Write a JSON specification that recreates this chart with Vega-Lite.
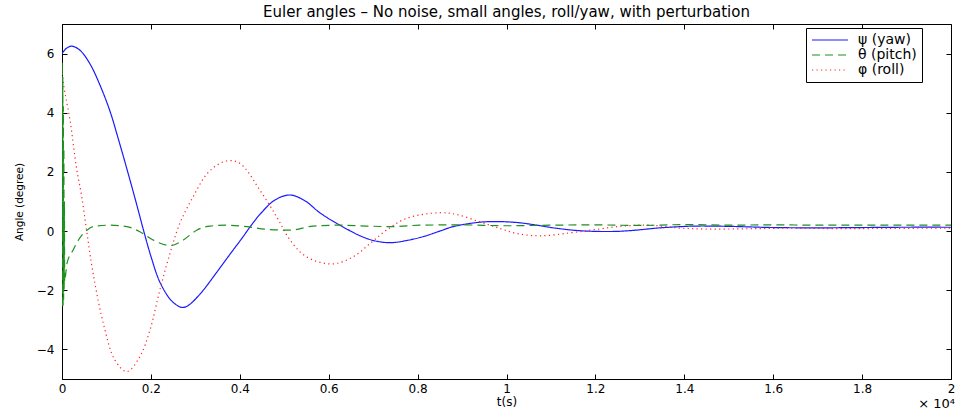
{
  "$schema": "https://vega.github.io/schema/vega-lite/v6.json",
  "autosize": "none",
  "width": 889,
  "height": 355,
  "padding": {"left": 62, "top": 24, "right": 11, "bottom": 34},
  "background": "white",
  "title": {"text": "Euler angles – No noise, small angles, roll/yaw, with perturbation", "font": "DejaVu Sans", "fontSize": 15, "fontWeight": "normal", "color": "black", "offset": 4, "anchor": "middle"},
  "config": {
    "view": {"stroke": "black", "strokeWidth": 1},
    "axis": {"grid": false, "domainColor": "black", "tickColor": "black", "labelColor": "black", "titleColor": "black", "labelFont": "DejaVu Sans", "titleFont": "DejaVu Sans", "labelFontSize": 12, "titleFontSize": 11, "titleFontWeight": "normal", "tickSize": -5}
  },
  "datasets": {
    "angles": [
      {"t": 0, "v": 6.0, "s": "ψ (yaw)"},
      {"t": 0.01, "v": 6.18, "s": "ψ (yaw)"},
      {"t": 0.022, "v": 6.25, "s": "ψ (yaw)"},
      {"t": 0.04, "v": 6.12, "s": "ψ (yaw)"},
      {"t": 0.063, "v": 5.65, "s": "ψ (yaw)"},
      {"t": 0.085, "v": 4.95, "s": "ψ (yaw)"},
      {"t": 0.108, "v": 4.05, "s": "ψ (yaw)"},
      {"t": 0.127, "v": 3.1, "s": "ψ (yaw)"},
      {"t": 0.146, "v": 2.1, "s": "ψ (yaw)"},
      {"t": 0.168, "v": 0.9, "s": "ψ (yaw)"},
      {"t": 0.183, "v": 0.05, "s": "ψ (yaw)"},
      {"t": 0.2, "v": -0.85, "s": "ψ (yaw)"},
      {"t": 0.22, "v": -1.72, "s": "ψ (yaw)"},
      {"t": 0.243, "v": -2.3, "s": "ψ (yaw)"},
      {"t": 0.256, "v": -2.48, "s": "ψ (yaw)"},
      {"t": 0.269, "v": -2.58, "s": "ψ (yaw)"},
      {"t": 0.28, "v": -2.55, "s": "ψ (yaw)"},
      {"t": 0.292, "v": -2.42, "s": "ψ (yaw)"},
      {"t": 0.305, "v": -2.22, "s": "ψ (yaw)"},
      {"t": 0.32, "v": -1.96, "s": "ψ (yaw)"},
      {"t": 0.333, "v": -1.7, "s": "ψ (yaw)"},
      {"t": 0.36, "v": -1.15, "s": "ψ (yaw)"},
      {"t": 0.385, "v": -0.64, "s": "ψ (yaw)"},
      {"t": 0.405, "v": -0.24, "s": "ψ (yaw)"},
      {"t": 0.423, "v": 0.14, "s": "ψ (yaw)"},
      {"t": 0.445, "v": 0.56, "s": "ψ (yaw)"},
      {"t": 0.479, "v": 1.05, "s": "ψ (yaw)"},
      {"t": 0.513, "v": 1.22, "s": "ψ (yaw)"},
      {"t": 0.547, "v": 1.02, "s": "ψ (yaw)"},
      {"t": 0.58, "v": 0.62, "s": "ψ (yaw)"},
      {"t": 0.625, "v": 0.2, "s": "ψ (yaw)"},
      {"t": 0.677, "v": -0.2, "s": "ψ (yaw)"},
      {"t": 0.71, "v": -0.35, "s": "ψ (yaw)"},
      {"t": 0.742, "v": -0.39, "s": "ψ (yaw)"},
      {"t": 0.775, "v": -0.32, "s": "ψ (yaw)"},
      {"t": 0.812, "v": -0.19, "s": "ψ (yaw)"},
      {"t": 0.85, "v": 0.0, "s": "ψ (yaw)"},
      {"t": 0.88, "v": 0.15, "s": "ψ (yaw)"},
      {"t": 0.94, "v": 0.3, "s": "ψ (yaw)"},
      {"t": 0.985, "v": 0.32, "s": "ψ (yaw)"},
      {"t": 1.03, "v": 0.28, "s": "ψ (yaw)"},
      {"t": 1.068, "v": 0.2, "s": "ψ (yaw)"},
      {"t": 1.11, "v": 0.1, "s": "ψ (yaw)"},
      {"t": 1.158, "v": 0.02, "s": "ψ (yaw)"},
      {"t": 1.2, "v": -0.01, "s": "ψ (yaw)"},
      {"t": 1.248, "v": -0.01, "s": "ψ (yaw)"},
      {"t": 1.29, "v": 0.03, "s": "ψ (yaw)"},
      {"t": 1.338, "v": 0.1, "s": "ψ (yaw)"},
      {"t": 1.39, "v": 0.15, "s": "ψ (yaw)"},
      {"t": 1.428, "v": 0.17, "s": "ψ (yaw)"},
      {"t": 1.5, "v": 0.16, "s": "ψ (yaw)"},
      {"t": 1.6, "v": 0.12, "s": "ψ (yaw)"},
      {"t": 1.7, "v": 0.11, "s": "ψ (yaw)"},
      {"t": 1.8, "v": 0.12, "s": "ψ (yaw)"},
      {"t": 1.9, "v": 0.13, "s": "ψ (yaw)"},
      {"t": 2.0, "v": 0.13, "s": "ψ (yaw)"},

      {"t": 0, "v": 0, "s": "θ (pitch)"},
      {"t": 0.0006, "v": 5.7, "s": "θ (pitch)"},
      {"t": 0.0012, "v": -2.6, "s": "θ (pitch)"},
      {"t": 0.0018, "v": 5.2, "s": "θ (pitch)"},
      {"t": 0.0024, "v": -2.5, "s": "θ (pitch)"},
      {"t": 0.003, "v": 4.2, "s": "θ (pitch)"},
      {"t": 0.0036, "v": -2.3, "s": "θ (pitch)"},
      {"t": 0.0042, "v": 2.8, "s": "θ (pitch)"},
      {"t": 0.0048, "v": -2.0, "s": "θ (pitch)"},
      {"t": 0.0054, "v": 1.0, "s": "θ (pitch)"},
      {"t": 0.006, "v": -1.7, "s": "θ (pitch)"},
      {"t": 0.008, "v": -1.5, "s": "θ (pitch)"},
      {"t": 0.011, "v": -1.1, "s": "θ (pitch)"},
      {"t": 0.025, "v": -0.64, "s": "θ (pitch)"},
      {"t": 0.037, "v": -0.3, "s": "θ (pitch)"},
      {"t": 0.056, "v": 0.03, "s": "θ (pitch)"},
      {"t": 0.07, "v": 0.15, "s": "θ (pitch)"},
      {"t": 0.108, "v": 0.2, "s": "θ (pitch)"},
      {"t": 0.146, "v": 0.15, "s": "θ (pitch)"},
      {"t": 0.175, "v": -0.02, "s": "θ (pitch)"},
      {"t": 0.205, "v": -0.3, "s": "θ (pitch)"},
      {"t": 0.243, "v": -0.49, "s": "θ (pitch)"},
      {"t": 0.273, "v": -0.3, "s": "θ (pitch)"},
      {"t": 0.303, "v": 0.03, "s": "θ (pitch)"},
      {"t": 0.333, "v": 0.17, "s": "θ (pitch)"},
      {"t": 0.37, "v": 0.2, "s": "θ (pitch)"},
      {"t": 0.415, "v": 0.15, "s": "θ (pitch)"},
      {"t": 0.46, "v": 0.06, "s": "θ (pitch)"},
      {"t": 0.513, "v": 0.03, "s": "θ (pitch)"},
      {"t": 0.565, "v": 0.17, "s": "θ (pitch)"},
      {"t": 0.625, "v": 0.2, "s": "θ (pitch)"},
      {"t": 0.685, "v": 0.17, "s": "θ (pitch)"},
      {"t": 0.745, "v": 0.15, "s": "θ (pitch)"},
      {"t": 0.805, "v": 0.2, "s": "θ (pitch)"},
      {"t": 0.9, "v": 0.21, "s": "θ (pitch)"},
      {"t": 1.0, "v": 0.18, "s": "θ (pitch)"},
      {"t": 1.1, "v": 0.2, "s": "θ (pitch)"},
      {"t": 1.2, "v": 0.21, "s": "θ (pitch)"},
      {"t": 1.3, "v": 0.19, "s": "θ (pitch)"},
      {"t": 1.4, "v": 0.22, "s": "θ (pitch)"},
      {"t": 1.5, "v": 0.2, "s": "θ (pitch)"},
      {"t": 1.6, "v": 0.21, "s": "θ (pitch)"},
      {"t": 1.7, "v": 0.2, "s": "θ (pitch)"},
      {"t": 1.8, "v": 0.2, "s": "θ (pitch)"},
      {"t": 1.9, "v": 0.2, "s": "θ (pitch)"},
      {"t": 2.0, "v": 0.2, "s": "θ (pitch)"},

      {"t": 0, "v": 5.5, "s": "φ (roll)"},
      {"t": 0.003, "v": 5.0, "s": "φ (roll)"},
      {"t": 0.018, "v": 3.75, "s": "φ (roll)"},
      {"t": 0.033, "v": 2.1, "s": "φ (roll)"},
      {"t": 0.044, "v": 1.2, "s": "φ (roll)"},
      {"t": 0.056, "v": -0.05, "s": "φ (roll)"},
      {"t": 0.07, "v": -1.43, "s": "φ (roll)"},
      {"t": 0.093, "v": -3.12, "s": "φ (roll)"},
      {"t": 0.119, "v": -4.36, "s": "φ (roll)"},
      {"t": 0.146, "v": -4.75, "s": "φ (roll)"},
      {"t": 0.175, "v": -4.25, "s": "φ (roll)"},
      {"t": 0.198, "v": -3.34, "s": "φ (roll)"},
      {"t": 0.22, "v": -2.0, "s": "φ (roll)"},
      {"t": 0.243, "v": -0.75, "s": "φ (roll)"},
      {"t": 0.265, "v": 0.26, "s": "φ (roll)"},
      {"t": 0.295, "v": 1.16, "s": "φ (roll)"},
      {"t": 0.33, "v": 2.0, "s": "φ (roll)"},
      {"t": 0.37, "v": 2.37, "s": "φ (roll)"},
      {"t": 0.4, "v": 2.29, "s": "φ (roll)"},
      {"t": 0.445, "v": 1.39, "s": "φ (roll)"},
      {"t": 0.483, "v": 0.48, "s": "φ (roll)"},
      {"t": 0.513, "v": -0.3, "s": "φ (roll)"},
      {"t": 0.55, "v": -0.87, "s": "φ (roll)"},
      {"t": 0.607, "v": -1.11, "s": "φ (roll)"},
      {"t": 0.655, "v": -0.87, "s": "φ (roll)"},
      {"t": 0.693, "v": -0.42, "s": "φ (roll)"},
      {"t": 0.73, "v": 0.03, "s": "φ (roll)"},
      {"t": 0.775, "v": 0.43, "s": "φ (roll)"},
      {"t": 0.85, "v": 0.62, "s": "φ (roll)"},
      {"t": 0.888, "v": 0.56, "s": "φ (roll)"},
      {"t": 0.94, "v": 0.31, "s": "φ (roll)"},
      {"t": 0.985, "v": 0.09, "s": "φ (roll)"},
      {"t": 1.023, "v": -0.08, "s": "φ (roll)"},
      {"t": 1.075, "v": -0.16, "s": "φ (roll)"},
      {"t": 1.143, "v": -0.06, "s": "φ (roll)"},
      {"t": 1.203, "v": 0.06, "s": "φ (roll)"},
      {"t": 1.263, "v": 0.17, "s": "φ (roll)"},
      {"t": 1.323, "v": 0.2, "s": "φ (roll)"},
      {"t": 1.383, "v": 0.11, "s": "φ (roll)"},
      {"t": 1.45, "v": 0.07, "s": "φ (roll)"},
      {"t": 1.55, "v": 0.08, "s": "φ (roll)"},
      {"t": 1.65, "v": 0.1, "s": "φ (roll)"},
      {"t": 1.75, "v": 0.08, "s": "φ (roll)"},
      {"t": 1.85, "v": 0.09, "s": "φ (roll)"},
      {"t": 2.0, "v": 0.1, "s": "φ (roll)"}
    ],
    "note": [{"label": "× 10⁴"}]
  },
  "layer": [
    {
      "data": {"name": "angles"},
      "encoding": {
        "x": {"field": "t", "type": "quantitative", "scale": {"domain": [0, 2], "nice": false, "zero": false},
              "axis": {"values": [0, 0.2, 0.4, 0.6, 0.8, 1, 1.2, 1.4, 1.6, 1.8, 2], "format": "~g", "title": "t(s)", "labelFontSize": 12, "titleFontSize": 12, "labelPadding": 9, "titlePadding": 2, "labelFlush": false}},
        "y": {"field": "v", "type": "quantitative", "scale": {"domain": [-5, 7], "nice": false, "zero": false},
              "axis": {"values": [-4, -2, 0, 2, 4, 6], "title": "Angle (degree)", "titleFontSize": 10.5, "labelPadding": 13, "titlePadding": 12}},
        "color": {"field": "s", "type": "nominal", "sort": null,
                  "scale": {"domain": ["ψ (yaw)", "θ (pitch)", "φ (roll)"], "range": ["#1a1aff", "#1f8f1f", "#ff2020"]},
                  "legend": {"title": null, "orient": "none", "legendX": 744, "legendY": 4, "strokeColor": "black", "fillColor": "white", "padding": 5, "symbolType": "stroke", "symbolSize": 1296, "symbolStrokeWidth": 1.2, "labelFont": "DejaVu Sans", "labelFontSize": 14, "labelColor": "black", "labelOffset": 9, "clipHeight": 14, "rowPadding": 1, "cornerRadius": 0}},
        "strokeDash": {"field": "s", "type": "nominal", "sort": null,
                       "scale": {"domain": ["ψ (yaw)", "θ (pitch)", "φ (roll)"], "range": [[1, 0], [8, 5], [1.2, 3.3]]}},
        "detail": {"field": "s"}
      },
      "layer": [
        {
          "transform": [{"filter": "datum.s !== 'θ (pitch)'"}],
          "mark": {"type": "line", "interpolate": "catmull-rom", "strokeWidth": 1.2, "clip": true}
        },
        {
          "transform": [{"filter": "datum.s === 'θ (pitch)'"}],
          "mark": {"type": "line", "interpolate": "monotone", "strokeWidth": 1.2, "clip": true}
        }
      ]
    },
    {
      "data": {"name": "note"},
      "mark": {"type": "text", "align": "right", "baseline": "top", "dy": 19, "dx": 4, "font": "DejaVu Sans", "fontSize": 13, "color": "black"},
      "encoding": {
        "x": {"datum": 2, "type": "quantitative", "axis": {"orient": "top", "values": [0, 0.2, 0.4, 0.6, 0.8, 1, 1.2, 1.4, 1.6, 1.8, 2], "labels": false, "title": null, "domain": false}},
        "y": {"datum": -5, "type": "quantitative", "axis": {"orient": "right", "values": [-4, -2, 0, 2, 4, 6], "labels": false, "title": null, "domain": false}},
        "text": {"field": "label"}
      }
    }
  ],
  "resolve": {"axis": {"x": "independent", "y": "independent"}}
}
